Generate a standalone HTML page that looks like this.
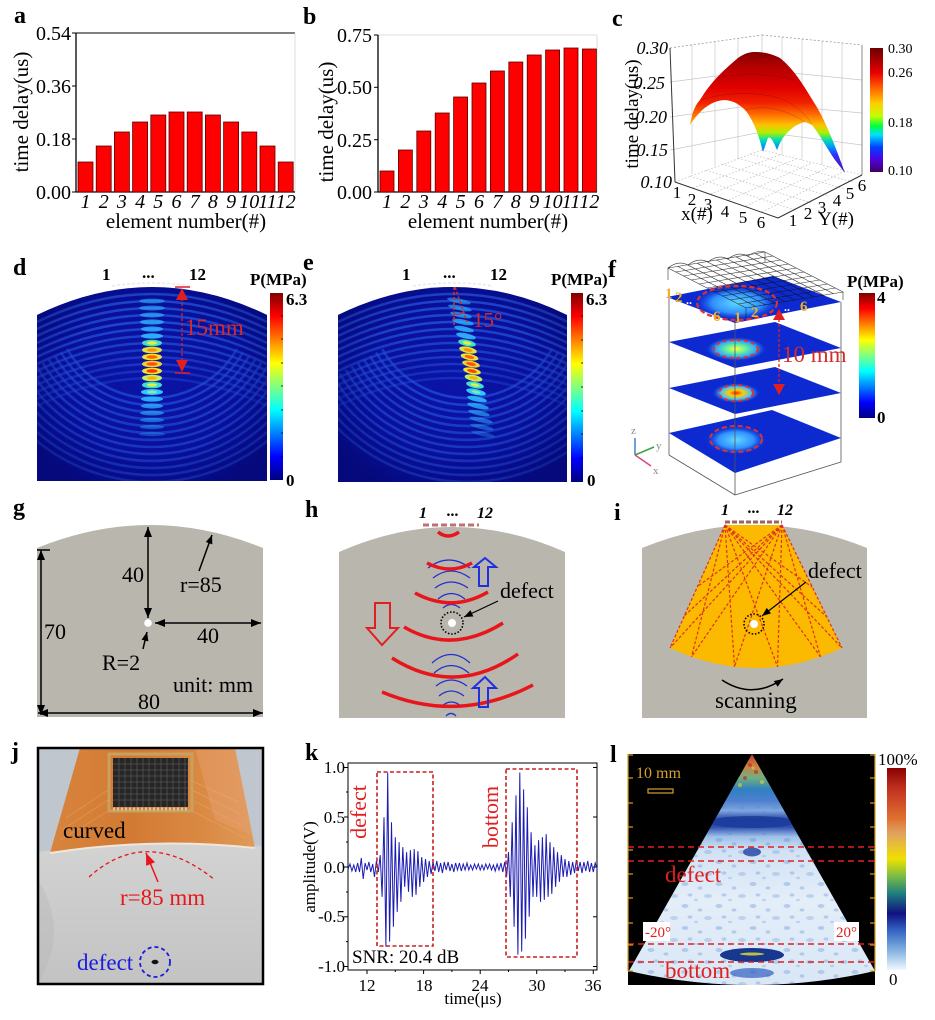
<!DOCTYPE html>
<html><head><meta charset="utf-8"><style>
html,body{margin:0;padding:0;background:#fff;}
svg{display:block;}
text{font-family:"Liberation Serif",serif;}
</style></head><body>
<svg width="935" height="1020" viewBox="0 0 935 1020" xmlns="http://www.w3.org/2000/svg">
<defs>
<linearGradient id="jet" x1="0" y1="0" x2="0" y2="1">
<stop offset="0" stop-color="#7f0000"/><stop offset="0.125" stop-color="#ff0000"/><stop offset="0.375" stop-color="#ffff00"/><stop offset="0.5" stop-color="#80ff80"/><stop offset="0.625" stop-color="#00ffff"/><stop offset="0.875" stop-color="#0000ff"/><stop offset="1" stop-color="#00007f"/>
</linearGradient>
<linearGradient id="cbar" x1="0" y1="0" x2="0" y2="1">
<stop offset="0" stop-color="#6b0000"/><stop offset="0.2" stop-color="#e80000"/><stop offset="0.32" stop-color="#ff6000"/><stop offset="0.45" stop-color="#ffd000"/><stop offset="0.55" stop-color="#c0ff00"/><stop offset="0.63" stop-color="#00ff40"/><stop offset="0.7" stop-color="#00e0ff"/><stop offset="0.8" stop-color="#0040ff"/><stop offset="0.9" stop-color="#5000e0"/><stop offset="1" stop-color="#400060"/>
</linearGradient>
<linearGradient id="surf" gradientUnits="userSpaceOnUse" x1="0" y1="50" x2="0" y2="175">
<stop offset="0" stop-color="#7a0000"/><stop offset="0.12" stop-color="#b00000"/><stop offset="0.3" stop-color="#e00000"/><stop offset="0.42" stop-color="#f02000"/><stop offset="0.52" stop-color="#ff7000"/><stop offset="0.6" stop-color="#ffc000"/><stop offset="0.66" stop-color="#b0f000"/><stop offset="0.72" stop-color="#00e0b0"/><stop offset="0.78" stop-color="#0090ff"/><stop offset="0.84" stop-color="#3030ff"/><stop offset="1" stop-color="#5010a0"/>
</linearGradient>
<linearGradient id="lbar" x1="0" y1="0" x2="0" y2="1">
<stop offset="0" stop-color="#8b0000"/><stop offset="0.1" stop-color="#c03020"/><stop offset="0.25" stop-color="#e07030"/><stop offset="0.32" stop-color="#e0a060"/><stop offset="0.45" stop-color="#f0e000"/><stop offset="0.53" stop-color="#80c040"/><stop offset="0.62" stop-color="#208080"/><stop offset="0.72" stop-color="#101080"/><stop offset="0.8" stop-color="#3060c0"/><stop offset="0.9" stop-color="#80b0e0"/><stop offset="1" stop-color="#f0f8ff"/>
</linearGradient>
<linearGradient id="fan" gradientUnits="userSpaceOnUse" x1="0" y1="754" x2="0" y2="990">
<stop offset="0" stop-color="#b04030"/><stop offset="0.05" stop-color="#d08040"/><stop offset="0.1" stop-color="#70b080"/><stop offset="0.15" stop-color="#3080c0"/><stop offset="0.2" stop-color="#5080d0"/><stop offset="0.24" stop-color="#7fa8e0"/><stop offset="0.275" stop-color="#2a4aa8"/><stop offset="0.31" stop-color="#3050b0"/><stop offset="0.35" stop-color="#9ec0e8"/><stop offset="0.41" stop-color="#d2e2f4"/><stop offset="0.62" stop-color="#e4eef9"/><stop offset="1" stop-color="#d8e6f5"/>
</linearGradient>
<pattern id="spk" width="34" height="22" patternUnits="userSpaceOnUse">
<ellipse cx="5" cy="4" rx="3.5" ry="2" fill="#4d7fd0" opacity="0.3"/><ellipse cx="20" cy="8" rx="2.5" ry="1.6" fill="#4d7fd0" opacity="0.3"/><ellipse cx="28" cy="16" rx="4" ry="2" fill="#4d7fd0" opacity="0.25"/><ellipse cx="10" cy="15" rx="2.5" ry="1.6" fill="#4d7fd0" opacity="0.3"/><ellipse cx="16" cy="20" rx="2" ry="1.2" fill="#4d7fd0" opacity="0.25"/>
</pattern>
<radialGradient id="vig" cx="0.5" cy="0.5" r="0.6">
<stop offset="0" stop-color="#00006a" stop-opacity="0"/><stop offset="0.6" stop-color="#00006a" stop-opacity="0.2"/><stop offset="1" stop-color="#00005a" stop-opacity="0.55"/>
</radialGradient>
<radialGradient id="sp1"><stop offset="0" stop-color="#60d8ff"/><stop offset="0.6" stop-color="#3090ff"/><stop offset="1" stop-color="#1040e0" stop-opacity="0"/></radialGradient>
<radialGradient id="sp2"><stop offset="0" stop-color="#ffff40"/><stop offset="0.35" stop-color="#60f0a0"/><stop offset="0.7" stop-color="#30a0ff"/><stop offset="1" stop-color="#1040e0" stop-opacity="0"/></radialGradient>
<radialGradient id="sp3"><stop offset="0" stop-color="#ff2000"/><stop offset="0.3" stop-color="#ffd000"/><stop offset="0.65" stop-color="#40c0ff"/><stop offset="1" stop-color="#1040e0" stop-opacity="0"/></radialGradient>
<linearGradient id="film" x1="0" y1="0" x2="1" y2="0">
<stop offset="0" stop-color="#d8843c"/><stop offset="0.4" stop-color="#d27a34"/><stop offset="0.75" stop-color="#da8a44"/><stop offset="1" stop-color="#e09a58"/>
</linearGradient>
<linearGradient id="floor" x1="0" y1="0" x2="0" y2="1">
<stop offset="0" stop-color="#d2d3d2"/><stop offset="1" stop-color="#c2c3c2"/>
</linearGradient>
<marker id="arr" viewBox="0 0 10 8" refX="10" refY="4" markerWidth="11" markerHeight="8" markerUnits="userSpaceOnUse" orient="auto-start-reverse"><path d="M0,0 L10,4 L0,8 Z" fill="#000"/></marker>
<marker id="arrs" viewBox="0 0 10 8" refX="10" refY="4" markerWidth="9" markerHeight="7" markerUnits="userSpaceOnUse" orient="auto"><path d="M0,0 L10,4 L0,8 Z" fill="#000"/></marker>
<marker id="arrr" viewBox="0 0 10 8" refX="10" refY="4" markerWidth="12" markerHeight="10" markerUnits="userSpaceOnUse" orient="auto"><path d="M0,0 L10,4 L0,8 Z" fill="#e8161b"/></marker>
<clipPath id="cd"><path d="M37,315 Q152,259 267,315 L267,481 L37,481 Z"/></clipPath>
<clipPath id="ce"><path d="M338,315 Q453,259 567,315 L567,482 L338,482 Z"/></clipPath>
<clipPath id="cfan"><path d="M752,754 L629,971 Q752,999 875,971 Z"/></clipPath>
<clipPath id="cj"><rect x="39" y="749" width="223" height="234"/></clipPath>
</defs>
<rect width="935" height="1020" fill="#fff"/>

<!-- panel letters -->
<g font-weight="bold" font-size="24">
<text x="14" y="23">a</text><text x="303" y="24">b</text><text x="612" y="26">c</text>
<text x="13" y="275">d</text><text x="303" y="270">e</text><text x="608" y="277">f</text>
<text x="13" y="515">g</text><text x="305" y="517">h</text><text x="614" y="520">i</text>
<text x="11" y="759">j</text><text x="305" y="760">k</text><text x="610" y="762">l</text>
</g>

<!-- ============ Panel a ============ -->
<g>
<line x1="76" y1="33" x2="295" y2="33" stroke="#000" stroke-width="1"/>
<line x1="295" y1="33" x2="295" y2="192" stroke="#ddd" stroke-width="1"/>
<line x1="76" y1="33" x2="76" y2="192.5" stroke="#000" stroke-width="1.3"/>
<line x1="76" y1="192" x2="295" y2="192" stroke="#000" stroke-width="1.3"/>
<g stroke="#000" stroke-width="1"><line x1="72" y1="33" x2="76" y2="33"/><line x1="72" y1="86" x2="76" y2="86"/><line x1="72" y1="139" x2="76" y2="139"/><line x1="72" y1="192" x2="76" y2="192"/></g>
<g fill="#ff0000" stroke="#5a0000" stroke-width="0.8">
<rect x="78" y="162" width="15" height="30"/><rect x="96.2" y="146" width="15" height="46"/><rect x="114.4" y="132" width="15" height="60"/><rect x="132.6" y="122" width="15" height="70"/><rect x="150.8" y="115" width="15" height="77"/><rect x="169" y="112" width="15" height="80"/><rect x="187.2" y="112" width="15" height="80"/><rect x="205.4" y="115" width="15" height="77"/><rect x="223.6" y="122" width="15" height="70"/><rect x="241.8" y="132" width="15" height="60"/><rect x="260" y="146" width="15" height="46"/><rect x="278.2" y="162" width="15" height="30"/>
</g>
<g font-size="20" text-anchor="end"><text x="71" y="40">0.54</text><text x="71" y="93">0.36</text><text x="71" y="146">0.18</text><text x="71" y="199">0.00</text></g>
<g font-size="20" font-style="italic" text-anchor="middle">
<text x="85.5" y="208">1</text><text x="103.7" y="208">2</text><text x="121.9" y="208">3</text><text x="140.1" y="208">4</text><text x="158.3" y="208">5</text><text x="176.5" y="208">6</text><text x="194.7" y="208">7</text><text x="212.9" y="208">8</text><text x="231.1" y="208">9</text><text x="249.3" y="208">10</text><text x="267.5" y="208">11</text><text x="285.7" y="208">12</text>
</g>
<text x="186" y="228" font-size="21" text-anchor="middle">element number(#)</text>
<text x="28" y="112" font-size="21" text-anchor="middle" transform="rotate(-90 28 112)">time delay(us)</text>
</g>

<!-- ============ Panel b ============ -->
<g>
<line x1="378" y1="35" x2="597" y2="35" stroke="#ddd"/>
<line x1="597" y1="35" x2="597" y2="192" stroke="#ddd"/>
<line x1="378" y1="35" x2="378" y2="192.5" stroke="#000" stroke-width="1.3"/>
<line x1="378" y1="192" x2="597" y2="192" stroke="#000" stroke-width="1.3"/>
<g stroke="#000" stroke-width="1"><line x1="374" y1="35" x2="378" y2="35"/><line x1="374" y1="87.3" x2="378" y2="87.3"/><line x1="374" y1="139.7" x2="378" y2="139.7"/><line x1="374" y1="192" x2="378" y2="192"/></g>
<g fill="#ff0000" stroke="#5a0000" stroke-width="0.8">
<rect x="380" y="171" width="14" height="21"/><rect x="398.4" y="150" width="14" height="42"/><rect x="416.8" y="131" width="14" height="61"/><rect x="435.2" y="113" width="14" height="79"/><rect x="453.6" y="97" width="14" height="95"/><rect x="472" y="83" width="14" height="109"/><rect x="490.4" y="71" width="14" height="121"/><rect x="508.8" y="62" width="14" height="130"/><rect x="527.2" y="55" width="14" height="137"/><rect x="545.6" y="50" width="14" height="142"/><rect x="564" y="48" width="14" height="144"/><rect x="582.4" y="49" width="14" height="143"/>
</g>
<g font-size="20" text-anchor="end"><text x="372" y="42">0.75</text><text x="372" y="94">0.50</text><text x="372" y="147">0.25</text><text x="372" y="199">0.00</text></g>
<g font-size="20" font-style="italic" text-anchor="middle">
<text x="387" y="208">1</text><text x="405.4" y="208">2</text><text x="423.8" y="208">3</text><text x="442.2" y="208">4</text><text x="460.6" y="208">5</text><text x="479" y="208">6</text><text x="497.4" y="208">7</text><text x="515.8" y="208">8</text><text x="534.2" y="208">9</text><text x="552.6" y="208">10</text><text x="571" y="208">11</text><text x="589.4" y="208">12</text>
</g>
<text x="488" y="228" font-size="21" text-anchor="middle">element number(#)</text>
<text x="333" y="122" font-size="21" text-anchor="middle" transform="rotate(-90 333 122)">time delay(us)</text>
</g>

<!-- ============ Panel c ============ -->
<g>
<g stroke="#c8c8c8" stroke-width="0.7" fill="none">
<line x1="692" y1="45" x2="692" y2="174"/><line x1="715" y1="42" x2="715" y2="166"/><line x1="738" y1="38" x2="738" y2="158"/>
<line x1="782" y1="37" x2="782" y2="155"/><line x1="802" y1="39" x2="802" y2="160"/><line x1="822" y1="41" x2="822" y2="165"/><line x1="842" y1="43" x2="842" y2="170"/>
<line x1="670" y1="82" x2="762" y2="70"/><line x1="670" y1="117" x2="762" y2="104"/><line x1="670" y1="150" x2="762" y2="132"/>
<line x1="762" y1="70" x2="862" y2="80"/><line x1="762" y1="104" x2="862" y2="113"/><line x1="762" y1="132" x2="862" y2="145"/>
</g>
<g stroke="#b8b8b8" stroke-width="0.7" stroke-dasharray="1.5,2" fill="none">
<line x1="693" y1="188" x2="779" y2="155"/><line x1="711" y1="194" x2="796" y2="159"/><line x1="729" y1="200" x2="812" y2="163"/><line x1="746" y1="206" x2="829" y2="167"/><line x1="762" y1="212" x2="845" y2="171"/>
<line x1="690" y1="176" x2="795" y2="210"/><line x1="706" y1="170" x2="812" y2="203"/><line x1="722" y1="164" x2="829" y2="196"/><line x1="738" y1="158" x2="845" y2="189"/><line x1="750" y1="154" x2="853" y2="182"/>
<line x1="675" y1="182" x2="762" y2="150"/><line x1="762" y1="150" x2="862" y2="175"/>
</g>
<g stroke="#999" stroke-width="0.8" fill="none">
<line x1="670" y1="48" x2="762" y2="35" stroke-dasharray="2,2"/><line x1="762" y1="35" x2="862" y2="45" stroke-dasharray="2,2"/>
<line x1="762" y1="35" x2="762" y2="150" stroke="#ccc"/>
</g>
<g stroke="#333" stroke-width="1" fill="none">
<line x1="670" y1="48" x2="675" y2="182"/>
<line x1="675" y1="182" x2="778" y2="218"/><line x1="778" y1="218" x2="862" y2="175"/>
<line x1="862" y1="45" x2="862" y2="175" stroke="#888"/>
</g>
<path d="M690,125 C692,112 696,104 700,100 C706,90 715,77 738,58 C745,53 750,52 755,52 C765,52 772,54 780,58 C795,70 805,88 815,104 C825,120 835,145 845,173 L835,160 C828,150 820,135 812,125 L805,122 C795,124 785,133 780,143 L777,150 C773,140 770,136 768,138 L763,152 C758,132 752,118 745,110 C735,100 725,98 715,102 C705,106 697,114 690,125 Z" fill="url(#surf)"/>
<g stroke="#400" stroke-width="0.5" fill="none" opacity="0.35">
<path d="M700,100 Q740,88 780,98 Q800,106 812,124"/><path d="M715,78 Q755,70 795,80"/><path d="M745,110 Q775,102 805,122"/>
</g>
<rect x="870" y="48" width="13" height="124" fill="url(#cbar)"/>
<g font-size="14"><text x="888" y="53">0.30</text><text x="888" y="77">0.26</text><text x="888" y="127">0.18</text><text x="888" y="175">0.10</text></g>
<g font-size="18" font-style="italic" text-anchor="end"><text x="668" y="54">0.30</text><text x="665" y="89">0.25</text><text x="667" y="123">0.20</text><text x="668" y="156">0.15</text><text x="672" y="188">0.10</text></g>
<g font-size="17" text-anchor="middle"><text x="677" y="198">1</text><text x="692" y="205">2</text><text x="708" y="210">3</text><text x="725" y="217">4</text><text x="743" y="223">5</text><text x="761" y="228">6</text>
<text x="793" y="226">1</text><text x="808" y="219">2</text><text x="822" y="213">3</text><text x="837" y="206">4</text><text x="850" y="199">5</text><text x="862" y="191">6</text></g>
<text x="697" y="220" font-size="19" text-anchor="middle">x(#)</text>
<text x="836" y="225" font-size="19" text-anchor="middle">Y(#)</text>
<text x="638" y="114" font-size="19" text-anchor="middle" transform="rotate(-90 638 114)">time delay(us)</text>
</g>

<!-- ============ Panel d ============ -->
<g clip-path="url(#cd)">
<rect x="37" y="255" width="230" height="230" fill="#0b14a6"/>
<g fill="none" stroke="#2f6dff" stroke-width="2.6">
<path d="M37,322 Q152,266 267,322" opacity="0.8"/><path d="M37,329 Q152,273 267,329" opacity="0.8"/><path d="M37,336 Q152,280 267,336" opacity="0.75"/><path d="M37,343 Q152,287 267,343" opacity="0.7"/><path d="M37,350 Q152,294 267,350" opacity="0.7"/><path d="M37,357 Q152,301 267,357" opacity="0.65"/><path d="M37,364 Q152,308 267,364" opacity="0.6"/><path d="M37,371 Q152,315 267,371" opacity="0.55"/><path d="M37,378 Q152,322 267,378" opacity="0.5"/><path d="M37,385 Q152,329 267,385" opacity="0.45"/><path d="M37,392 Q152,336 267,392" opacity="0.4"/><path d="M37,399 Q152,343 267,399" opacity="0.35"/><path d="M37,406 Q152,350 267,406" opacity="0.3"/>
</g>
<g fill="none" stroke="#2a62f5" stroke-width="2.6" opacity="0.6">
<path d="M67.1,349 A98,98 0 0 0 236.9,349"/><path d="M61.1,352.5 A105,105 0 0 0 242.9,352.5"/><path d="M55,356 A112,112 0 0 0 249,356"/><path d="M48.9,359.5 A119,119 0 0 0 255.1,359.5"/><path d="M42.9,363 A126,126 0 0 0 261.1,363"/><path d="M36.8,366.5 A133,133 0 0 0 267.2,366.5"/><path d="M30.8,370 A140,140 0 0 0 273.2,370"/><path d="M24.7,373.5 A147,147 0 0 0 279.3,373.5"/><path d="M18.6,377 A154,154 0 0 0 285.4,377"/><path d="M12.6,380.5 A161,161 0 0 0 291.4,380.5"/><path d="M6.5,384 A168,168 0 0 0 297.5,384"/><path d="M0.4,387.5 A175,175 0 0 0 303.6,387.5"/><path d="M-5.6,391 A182,182 0 0 0 309.6,391"/>
</g>
<rect x="37" y="280" width="230" height="202" fill="url(#vig)"/>
<g fill="#30b8ff">
<ellipse cx="152" cy="301" rx="13" ry="2.4" opacity="0.55"/><ellipse cx="152" cy="308" rx="13" ry="2.4" opacity="0.6"/><ellipse cx="152" cy="315" rx="12" ry="2.5" opacity="0.65"/><ellipse cx="152" cy="322" rx="12" ry="2.6" opacity="0.75"/><ellipse cx="152" cy="329" rx="11" ry="2.6" opacity="0.8"/><ellipse cx="152" cy="336" rx="11" ry="2.7" opacity="0.9"/>
<ellipse cx="152" cy="399" rx="11" ry="2.6" opacity="0.9"/><ellipse cx="152" cy="406" rx="11" ry="2.5" opacity="0.75"/><ellipse cx="152" cy="413" rx="12" ry="2.4" opacity="0.6"/><ellipse cx="152" cy="420" rx="12" ry="2.3" opacity="0.5"/><ellipse cx="152" cy="427" rx="12" ry="2.2" opacity="0.4"/><ellipse cx="152" cy="434" rx="13" ry="2.2" opacity="0.3"/>
</g>
<g>
<ellipse cx="152" cy="343" rx="10" ry="3.3" fill="#40e0c0"/><ellipse cx="152" cy="343" rx="5" ry="1.8" fill="#e0f040"/>
<ellipse cx="152" cy="350" rx="10" ry="3.3" fill="#e0e040"/><ellipse cx="152" cy="350" rx="5" ry="1.8" fill="#ff9000"/>
<ellipse cx="152" cy="357" rx="10" ry="3.3" fill="#f0e030"/><ellipse cx="152" cy="357" rx="5.5" ry="1.8" fill="#ff6000"/>
<ellipse cx="152" cy="364" rx="10" ry="3.3" fill="#f0d030"/><ellipse cx="152" cy="364" rx="5.5" ry="1.8" fill="#ff5000"/>
<ellipse cx="152" cy="371" rx="10" ry="3.3" fill="#f0e030"/><ellipse cx="152" cy="371" rx="5.5" ry="1.8" fill="#ff3000"/>
<ellipse cx="152" cy="378" rx="10" ry="3.3" fill="#c0f060"/><ellipse cx="152" cy="378" rx="5" ry="1.8" fill="#ffb000"/>
<ellipse cx="152" cy="385" rx="10" ry="3.3" fill="#40e0d0"/><ellipse cx="152" cy="385" rx="5" ry="1.6" fill="#e0f040"/>
<ellipse cx="152" cy="392" rx="11" ry="3" fill="#30c8ff"/><ellipse cx="152" cy="392" rx="5" ry="1.5" fill="#80f0a0"/>
</g>
</g>
<path d="M112,286 Q152,280 192,286" stroke="#e8e8f0" stroke-width="1.5" stroke-dasharray="3,2" fill="none"/>
<g font-weight="bold" font-size="17"><text x="102" y="280">1</text><text x="142" y="278">...</text><text x="189" y="280">12</text></g>
<g stroke="#e02020" fill="#e02020">
<line x1="182" y1="298" x2="182" y2="362" stroke-width="1.3" stroke-dasharray="3,2"/>
<line x1="175" y1="287" x2="190" y2="287" stroke-width="1.5"/><line x1="175" y1="373" x2="190" y2="373" stroke-width="1.5"/>
<path d="M182,288 L176,300 L188,300 Z" stroke="none"/><path d="M182,372 L176,360 L188,360 Z" stroke="none"/>
</g>
<text x="185" y="335" font-size="23" fill="#d42a2a">15mm</text>
<rect x="270" y="293" width="13" height="187" fill="url(#jet)"/>
<g stroke="#000" stroke-width="0.8"><line x1="281" y1="316" x2="283" y2="316"/><line x1="281" y1="339" x2="283" y2="339"/><line x1="281" y1="363" x2="283" y2="363"/><line x1="281" y1="386" x2="283" y2="386"/><line x1="281" y1="410" x2="283" y2="410"/><line x1="281" y1="433" x2="283" y2="433"/><line x1="281" y1="457" x2="283" y2="457"/></g>
<g font-weight="bold" font-size="17"><text x="250" y="285">P(MPa)</text><text x="286" y="305">6.3</text><text x="286" y="486">0</text></g>

<!-- ============ Panel e ============ -->
<g clip-path="url(#ce)">
<g transform="translate(301,0)">
<rect x="37" y="255" width="230" height="230" fill="#0b14a6"/>
<g fill="none" stroke="#2f6dff" stroke-width="2.6">
<path d="M37,322 Q152,266 267,322" opacity="0.8"/><path d="M37,329 Q152,273 267,329" opacity="0.8"/><path d="M37,336 Q152,280 267,336" opacity="0.75"/><path d="M37,343 Q152,287 267,343" opacity="0.7"/><path d="M37,350 Q152,294 267,350" opacity="0.7"/><path d="M37,357 Q152,301 267,357" opacity="0.65"/><path d="M37,364 Q152,308 267,364" opacity="0.6"/><path d="M37,371 Q152,315 267,371" opacity="0.55"/><path d="M37,378 Q152,322 267,378" opacity="0.5"/><path d="M37,385 Q152,329 267,385" opacity="0.45"/><path d="M37,392 Q152,336 267,392" opacity="0.4"/><path d="M37,399 Q152,343 267,399" opacity="0.35"/><path d="M37,406 Q152,350 267,406" opacity="0.3"/>
</g>
<g fill="none" stroke="#2a62f5" stroke-width="2.6" opacity="0.6" transform="translate(14,0)">
<path d="M67.1,349 A98,98 0 0 0 236.9,349"/><path d="M61.1,352.5 A105,105 0 0 0 242.9,352.5"/><path d="M55,356 A112,112 0 0 0 249,356"/><path d="M48.9,359.5 A119,119 0 0 0 255.1,359.5"/><path d="M42.9,363 A126,126 0 0 0 261.1,363"/><path d="M36.8,366.5 A133,133 0 0 0 267.2,366.5"/><path d="M30.8,370 A140,140 0 0 0 273.2,370"/><path d="M24.7,373.5 A147,147 0 0 0 279.3,373.5"/><path d="M18.6,377 A154,154 0 0 0 285.4,377"/><path d="M12.6,380.5 A161,161 0 0 0 291.4,380.5"/><path d="M6.5,384 A168,168 0 0 0 297.5,384"/><path d="M0.4,387.5 A175,175 0 0 0 303.6,387.5"/><path d="M-5.6,391 A182,182 0 0 0 309.6,391"/>
</g>
<rect x="37" y="280" width="230" height="202" fill="url(#vig)"/>
</g>
<g fill="#30b8ff">
<ellipse cx="459" cy="301" rx="12" ry="2.4" opacity="0.55" transform="rotate(12 459 301)"/><ellipse cx="460" cy="308" rx="12" ry="2.4" opacity="0.6" transform="rotate(12 460 308)"/><ellipse cx="461" cy="315" rx="11" ry="2.5" opacity="0.65" transform="rotate(12 461 315)"/><ellipse cx="463" cy="322" rx="11" ry="2.6" opacity="0.75" transform="rotate(12 463 322)"/><ellipse cx="464" cy="329" rx="10" ry="2.6" opacity="0.8" transform="rotate(12 464 329)"/><ellipse cx="466" cy="336" rx="10" ry="2.7" opacity="0.9" transform="rotate(12 466 336)"/>
<ellipse cx="477" cy="399" rx="10" ry="2.6" opacity="0.9" transform="rotate(12 477 399)"/><ellipse cx="478" cy="406" rx="11" ry="2.5" opacity="0.75" transform="rotate(12 478 406)"/><ellipse cx="479" cy="413" rx="11" ry="2.4" opacity="0.6" transform="rotate(12 479 413)"/><ellipse cx="481" cy="420" rx="12" ry="2.3" opacity="0.5" transform="rotate(12 481 420)"/><ellipse cx="482" cy="427" rx="12" ry="2.2" opacity="0.4" transform="rotate(12 482 427)"/><ellipse cx="483" cy="434" rx="12" ry="2.2" opacity="0.3" transform="rotate(12 483 434)"/>
</g>
<g>
<g transform="rotate(12 467 343)"><ellipse cx="467" cy="343" rx="9" ry="3.2" fill="#40e0c0"/><ellipse cx="467" cy="343" rx="4.5" ry="1.6" fill="#e0f040"/></g>
<g transform="rotate(12 468 350)"><ellipse cx="468" cy="350" rx="9" ry="3.2" fill="#e0e040"/><ellipse cx="468" cy="350" rx="4.5" ry="1.6" fill="#ff9000"/></g>
<g transform="rotate(12 469.5 357)"><ellipse cx="469.5" cy="357" rx="9" ry="3.2" fill="#f0e030"/><ellipse cx="469.5" cy="357" rx="5" ry="1.6" fill="#ff6000"/></g>
<g transform="rotate(12 471 364)"><ellipse cx="471" cy="364" rx="9" ry="3.2" fill="#f0d030"/><ellipse cx="471" cy="364" rx="5" ry="1.6" fill="#ff5000"/></g>
<g transform="rotate(12 472 371)"><ellipse cx="472" cy="371" rx="9" ry="3.2" fill="#f0e030"/><ellipse cx="472" cy="371" rx="5" ry="1.6" fill="#ff4000"/></g>
<g transform="rotate(12 473.5 378)"><ellipse cx="473.5" cy="378" rx="9" ry="3.2" fill="#c0f060"/><ellipse cx="473.5" cy="378" rx="4.5" ry="1.6" fill="#ffb000"/></g>
<g transform="rotate(12 475 385)"><ellipse cx="475" cy="385" rx="9" ry="3.2" fill="#40e0d0"/><ellipse cx="475" cy="385" rx="4.5" ry="1.5" fill="#e0f040"/></g>
<g transform="rotate(12 476 392)"><ellipse cx="476" cy="392" rx="10" ry="3" fill="#30c8ff"/><ellipse cx="476" cy="392" rx="4.5" ry="1.4" fill="#80f0a0"/></g>
</g>
</g>
<path d="M413,286 Q453,280 493,286" stroke="#e8e8f0" stroke-width="1.5" stroke-dasharray="3,2" fill="none"/>
<g font-weight="bold" font-size="17"><text x="402" y="280">1</text><text x="443" y="278">...</text><text x="490" y="280">12</text></g>
<g stroke="#d42a2a" stroke-width="1.6" stroke-dasharray="3,2" fill="none">
<line x1="454" y1="287" x2="454" y2="325"/><line x1="455" y1="287" x2="467" y2="322"/>
</g>
<path d="M454,314 Q459,316 463,312" stroke="#d42a2a" stroke-width="1" fill="none"/>
<text x="473" y="327" font-size="21" fill="#d42a2a">15°</text>
<rect x="571" y="293" width="12" height="189" fill="url(#jet)"/>
<g stroke="#000" stroke-width="0.8"><line x1="581" y1="316" x2="583" y2="316"/><line x1="581" y1="340" x2="583" y2="340"/><line x1="581" y1="363" x2="583" y2="363"/><line x1="581" y1="387" x2="583" y2="387"/><line x1="581" y1="411" x2="583" y2="411"/><line x1="581" y1="434" x2="583" y2="434"/><line x1="581" y1="458" x2="583" y2="458"/></g>
<g font-weight="bold" font-size="17"><text x="551" y="285">P(MPa)</text><text x="586" y="305">6.3</text><text x="587" y="486">0</text></g>

<!-- ============ Panel f ============ -->
<g>
<polygon points="669,433 772,410 841,438 735,473" fill="#0d2ad0"/>
<ellipse cx="736" cy="440" rx="30" ry="14" fill="url(#sp1)"/>
<ellipse cx="736" cy="439" rx="26" ry="13" fill="none" stroke="#e03030" stroke-width="2" stroke-dasharray="5,3"/>
<polygon points="669,388 775,367 841,393 735,414" fill="#0d2ad0"/>
<ellipse cx="736" cy="393" rx="24" ry="10" fill="url(#sp3)"/>
<ellipse cx="736" cy="393" rx="17" ry="8" fill="none" stroke="#e03030" stroke-width="2" stroke-dasharray="4,3"/>
<polygon points="669,342 775,322 841,348 735,368" fill="#0d2ad0"/>
<ellipse cx="736" cy="349" rx="30" ry="12" fill="url(#sp2)"/>
<ellipse cx="736" cy="349" rx="22" ry="9" fill="none" stroke="#e03030" stroke-width="2" stroke-dasharray="4,3"/>
<polygon points="667,297 773,276 841,302 735,323" fill="#0d2ad0"/>
<ellipse cx="737" cy="303" rx="42" ry="17" fill="url(#sp1)"/>
<g stroke="#111" stroke-width="0.6" fill="none" opacity="0.85">
<polygon points="668,268 765,252 843,292 746,308"/>
<line x1="677.7" y1="266.4" x2="755.7" y2="306.4"/><line x1="687.4" y1="264.8" x2="765.4" y2="304.8"/><line x1="697.1" y1="263.2" x2="775.1" y2="303.2"/><line x1="706.8" y1="261.6" x2="784.8" y2="301.6"/><line x1="716.5" y1="260" x2="794.5" y2="300"/><line x1="726.2" y1="258.4" x2="804.2" y2="298.4"/><line x1="735.9" y1="256.8" x2="813.9" y2="296.8"/><line x1="745.6" y1="255.2" x2="823.6" y2="295.2"/><line x1="755.3" y1="253.6" x2="833.3" y2="293.6"/>
<line x1="675.8" y1="272" x2="772.8" y2="256"/><line x1="683.6" y1="276" x2="780.6" y2="260"/><line x1="691.4" y1="280" x2="788.4" y2="264"/><line x1="699.2" y1="284" x2="796.2" y2="268"/><line x1="707" y1="288" x2="804" y2="272"/><line x1="714.8" y1="292" x2="811.8" y2="276"/><line x1="722.6" y1="296" x2="819.6" y2="280"/><line x1="730.4" y1="300" x2="827.4" y2="284"/><line x1="738.2" y1="304" x2="835.2" y2="288"/>
<line x1="668" y1="268" x2="668" y2="280"/><line x1="765" y1="252" x2="765" y2="262"/><line x1="843" y1="292" x2="843" y2="300"/><line x1="746" y1="308" x2="746" y2="318"/>
<path d="M668,268 q10,-8 20,-3 q10,-8 20,-3 q10,-8 20,-3 q10,-8 20,-3 q8,-6 17,-4" />
</g>
<ellipse cx="737" cy="303" rx="40" ry="17" fill="none" stroke="#e03030" stroke-width="2.2" stroke-dasharray="5,3"/>
<g stroke="#555" stroke-width="0.8" fill="none">
<line x1="669" y1="297" x2="669" y2="455"/><line x1="735" y1="323" x2="735" y2="495"/><line x1="841" y1="302" x2="841" y2="462"/>
<line x1="669" y1="455" x2="735" y2="495"/><line x1="735" y1="495" x2="841" y2="462"/>
</g>
<g fill="#f0b020" font-weight="bold" font-size="15"><text x="665" y="298">1</text><text x="675" y="302">2</text><text x="713" y="321">6</text><text x="734" y="322">1</text><text x="751" y="317">2</text><text x="800" y="311">6</text></g>
<g fill="#fff" font-size="12" font-weight="bold"><text x="686" y="304">..</text><text x="784" y="311">..</text></g>
<line x1="779" y1="314" x2="779" y2="386" stroke="#e02020" stroke-width="1.3" stroke-dasharray="3,2"/>
<path d="M779,309 L773,320 L785,320 Z" fill="#e02020"/><path d="M779,395 L773,384 L785,384 Z" fill="#e02020"/>
<text x="782" y="362" font-size="23" fill="#d42a2a">10 mm</text>
<rect x="859" y="293" width="16" height="125" fill="url(#jet)"/>
<g font-weight="bold" font-size="17"><text x="847" y="287">P(MPa)</text><text x="877" y="303">4</text><text x="877" y="423">0</text></g>
<g stroke-width="1.5" fill="none">
<line x1="635" y1="455" x2="635" y2="438" stroke="#4080c0"/><line x1="635" y1="455" x2="654" y2="447" stroke="#40a040"/><line x1="635" y1="455" x2="651" y2="466" stroke="#e04080"/>
</g>
<g fill="#888" font-size="11" font-family="Liberation Sans"><text x="631" y="434">z</text><text x="656" y="449">y</text><text x="653" y="474">x</text></g>
</g>

<!-- ============ Panel g ============ -->
<g>
<path d="M37,548 Q150,502 263,548 L263,717 L37,717 Z" fill="#b9b6ae"/>
<g stroke="#000" stroke-width="1.5" fill="none">
<line x1="148" y1="527" x2="148" y2="618" marker-start="url(#arr)" marker-end="url(#arr)"/>
<line x1="155" y1="623" x2="261" y2="623" marker-start="url(#arr)" marker-end="url(#arr)"/>
<line x1="199" y1="571" x2="212" y2="535" marker-end="url(#arrs)"/>
<line x1="143" y1="649" x2="147" y2="632" marker-end="url(#arrs)"/>
<line x1="41" y1="550" x2="41" y2="715" marker-start="url(#arr)" marker-end="url(#arr)"/>
<line x1="37" y1="550" x2="50" y2="550"/>
<line x1="38" y1="713" x2="263" y2="713" marker-start="url(#arr)" marker-end="url(#arr)"/>
</g>
<circle cx="148" cy="623" r="3.8" fill="#fff"/>
<g font-size="22"><text x="122" y="582">40</text><text x="197" y="643">40</text><text x="180" y="592">r=85</text><text x="102" y="670">R=2</text><text x="44" y="639">70</text><text x="173" y="692">unit: mm</text><text x="138" y="709">80</text></g>
</g>

<!-- ============ Panel h ============ -->
<g>
<path d="M339,552 Q452,502 565,552 L565,718 L339,718 Z" fill="#b9b6ae"/>
<line x1="423" y1="525" x2="479" y2="525" stroke="#c07070" stroke-width="3" stroke-dasharray="6,3"/>
<g font-weight="bold" font-style="italic" font-size="16"><text x="419" y="518">1</text><text x="447" y="516">...</text><text x="477" y="518">12</text></g>
<g fill="none" stroke="#2030d0" stroke-width="1.3">
<path d="M428,568 Q449,552 470,568"/><path d="M433,578 Q451,564 470,578"/><path d="M435,588 Q451,576 468,588"/><path d="M438,599 Q451,588 465,599"/><path d="M443,608 Q451,601 460,608"/>
<path d="M432,663 Q451,646 470,663"/><path d="M434,673 Q451,658 469,673"/><path d="M436,686 Q451,674 467,686"/><path d="M439,696 Q451,686 464,696"/><path d="M442,706 Q451,698 461,706"/><path d="M446,716 Q451,711 456,716"/>
</g>
<g fill="none" stroke="#e8161b" stroke-width="3.5">
<path d="M438,532 Q448,540 459,532"/>
<path d="M427,563 Q450,575 472,563"/>
<path d="M415,593 Q452,613 488,592"/>
<path d="M404,627 Q452,655 503,623"/>
<path d="M392,658 Q455,698 518,654"/>
<path d="M382,692 Q458,724 533,685"/>
</g>
<path d="M375,603 L390,603 L390,628 L398,628 L382,645 L367,628 L375,628 Z" fill="none" stroke="#e02020" stroke-width="2"/>
<path d="M479,586 L488,586 L488,567 L496,567 L485,558 L474,567 L479,567 Z" fill="none" stroke="#2030e0" stroke-width="2"/>
<path d="M479,707 L488,707 L488,688 L496,688 L485,677 L473,688 L479,688 Z" fill="none" stroke="#2030e0" stroke-width="2"/>
<circle cx="452" cy="623" r="11" fill="none" stroke="#000" stroke-width="1.6" stroke-dasharray="1.5,1.8"/>
<circle cx="452" cy="623" r="4" fill="#fff"/>
<line x1="498" y1="601" x2="464" y2="617" stroke="#000" stroke-width="1.2" marker-end="url(#arrs)"/>
<text x="500" y="598" font-size="22">defect</text>
</g>

<!-- ============ Panel i ============ -->
<g>
<path d="M642,548 Q754.5,502 867,548 L867,718 L642,718 Z" fill="#b9b6ae"/>
<path d="M725,525 L782,525 L842,648 Q756,688 670,648 Z" fill="#fbb900"/>
<g stroke="#e03020" stroke-width="1.2" stroke-dasharray="3,2" fill="none">
<line x1="725" y1="525" x2="670" y2="648"/><line x1="725" y1="525" x2="691.5" y2="656.8"/><line x1="725" y1="525" x2="734.5" y2="666.7"/><line x1="725" y1="525" x2="777.5" y2="666.7"/><line x1="725" y1="525" x2="820.5" y2="656.8"/><line x1="725" y1="525" x2="842" y2="648"/><line x1="725" y1="525" x2="812" y2="587"/><line x1="725" y1="525" x2="827" y2="617"/>
<line x1="782" y1="525" x2="842" y2="648"/><line x1="782" y1="525" x2="820.5" y2="656.8"/><line x1="782" y1="525" x2="777.5" y2="666.7"/><line x1="782" y1="525" x2="734.5" y2="666.7"/><line x1="782" y1="525" x2="691.5" y2="656.8"/><line x1="782" y1="525" x2="670" y2="648"/><line x1="782" y1="525" x2="697.5" y2="586.5"/><line x1="782" y1="525" x2="683" y2="617"/>
</g>
<line x1="725" y1="522" x2="782" y2="522" stroke="#a06060" stroke-width="3" stroke-dasharray="5,2"/>
<g font-weight="bold" font-style="italic" font-size="16"><text x="721" y="515">1</text><text x="748" y="513">...</text><text x="777" y="515">12</text></g>
<circle cx="754" cy="624" r="10" fill="none" stroke="#000" stroke-width="1.6" stroke-dasharray="1.5,1.8"/>
<circle cx="754" cy="624" r="4" fill="#fff"/>
<line x1="806" y1="582" x2="762" y2="616" stroke="#000" stroke-width="1.2" marker-end="url(#arrs)"/>
<text x="808" y="578" font-size="22">defect</text>
<path d="M722,680 Q752,700 783,679" stroke="#000" stroke-width="1.5" fill="none" marker-end="url(#arrs)"/>
<text x="715" y="708" font-size="23">scanning</text>
</g>

<!-- ============ Panel j ============ -->
<g clip-path="url(#cj)">
<rect x="38" y="748" width="226" height="237" fill="#bfc6cd"/>
<path d="M38,852 Q152,836 263,846 L263,984 L38,984 Z" fill="url(#floor)"/>
<path d="M38,880 Q70,930 38,984 Z" fill="#b4b4b4" opacity="0.35"/>
<path d="M80,748 L235,748 L255,848 Q152,836 50,853 Z" fill="url(#film)"/>
<path d="M195,748 L235,748 L252,835 L215,820 Z" fill="#e6a070" opacity="0.45"/>
<path d="M50,853 Q152,837 255,848" stroke="#f0e6dc" stroke-width="2" fill="none"/>
<g stroke="#f0b070" stroke-width="0.7" opacity="0.55">
<line x1="110" y1="810" x2="60" y2="840"/><line x1="108" y1="800" x2="62" y2="830"/><line x1="108" y1="790" x2="66" y2="818"/><line x1="190" y1="810" x2="245" y2="838"/><line x1="192" y1="800" x2="243" y2="826"/><line x1="192" y1="790" x2="240" y2="814"/><line x1="190" y1="780" x2="238" y2="802"/>
</g>
<rect x="109" y="754" width="83" height="57" fill="none" stroke="#c8a060" stroke-width="3"/>
<rect x="113" y="758" width="75" height="49" fill="#262626"/>
<g stroke="#555" stroke-width="0.8">
<line x1="113" y1="764" x2="188" y2="764"/><line x1="113" y1="770" x2="188" y2="770"/><line x1="113" y1="776" x2="188" y2="776"/><line x1="113" y1="782" x2="188" y2="782"/><line x1="113" y1="788" x2="188" y2="788"/><line x1="113" y1="794" x2="188" y2="794"/><line x1="113" y1="800" x2="188" y2="800"/>
<line x1="119" y1="758" x2="119" y2="807"/><line x1="125" y1="758" x2="125" y2="807"/><line x1="131" y1="758" x2="131" y2="807"/><line x1="137" y1="758" x2="137" y2="807"/><line x1="143" y1="758" x2="143" y2="807"/><line x1="149" y1="758" x2="149" y2="807"/><line x1="155" y1="758" x2="155" y2="807"/><line x1="161" y1="758" x2="161" y2="807"/><line x1="167" y1="758" x2="167" y2="807"/><line x1="173" y1="758" x2="173" y2="807"/><line x1="179" y1="758" x2="179" y2="807"/><line x1="185" y1="758" x2="185" y2="807"/>
</g>
<line x1="113" y1="809" x2="188" y2="809" stroke="#d8c8a0" stroke-width="3" stroke-dasharray="2,2"/>
</g>
<rect x="38" y="748" width="225" height="236" fill="none" stroke="#000" stroke-width="2.5"/>
<text x="63" y="838" font-size="23">curved</text>
<path d="M89,877 Q147,825 215,880" stroke="#e8161b" stroke-width="1.3" stroke-dasharray="4,3" fill="none"/>
<line x1="158" y1="882" x2="146" y2="853" stroke="#e8161b" stroke-width="1.5" marker-end="url(#arrr)"/>
<text x="120" y="905" font-size="23" fill="#e8161b">r=85 mm</text>
<text x="77" y="970" font-size="23" fill="#1a1ae0">defect</text>
<circle cx="155" cy="962" r="15" fill="none" stroke="#1a1ae0" stroke-width="1.8" stroke-dasharray="4,3"/>
<ellipse cx="155" cy="962" rx="3.5" ry="2.2" fill="#111"/>

<!-- ============ Panel k ============ -->
<g>
<rect x="348" y="763" width="249" height="207" fill="none" stroke="#000" stroke-width="1"/>
<g stroke="#000" stroke-width="1">
<line x1="344" y1="767.5" x2="348" y2="767.5"/><line x1="344" y1="817" x2="348" y2="817"/><line x1="344" y1="867" x2="348" y2="867"/><line x1="344" y1="916.8" x2="348" y2="916.8"/><line x1="344" y1="966.5" x2="348" y2="966.5"/>
<line x1="346" y1="792" x2="348" y2="792"/><line x1="346" y1="842" x2="348" y2="842"/><line x1="346" y1="892" x2="348" y2="892"/><line x1="346" y1="941.6" x2="348" y2="941.6"/>
<line x1="597" y1="767.5" x2="593" y2="767.5"/><line x1="597" y1="817" x2="593" y2="817"/><line x1="597" y1="867" x2="593" y2="867"/><line x1="597" y1="916.8" x2="593" y2="916.8"/><line x1="597" y1="966.5" x2="593" y2="966.5"/>
<line x1="367" y1="970" x2="367" y2="974"/><line x1="423.6" y1="970" x2="423.6" y2="974"/><line x1="480.2" y1="970" x2="480.2" y2="974"/><line x1="536.7" y1="970" x2="536.7" y2="974"/><line x1="593.3" y1="970" x2="593.3" y2="974"/>
<line x1="395.3" y1="970" x2="395.3" y2="972"/><line x1="451.9" y1="970" x2="451.9" y2="972"/><line x1="508.5" y1="970" x2="508.5" y2="972"/><line x1="565" y1="970" x2="565" y2="972"/>
</g>
<polyline fill="none" stroke="#1c1cb4" stroke-width="1" points="348.1,869 350,864 351.9,871 353.8,865 355.7,872 357.6,863 359.5,872 361.3,858 363.2,878.9 365.1,863 367,870 368.9,862 370.8,872 372.7,864 374.5,877 376.4,861 378.3,872 380.2,855.1 382.1,896.9 384,817.3 385.9,946.6 387.7,772.5 389.6,941.6 391.5,822.2 393.4,926.7 395.3,837.2 397.2,911.8 399.1,842.1 400.9,901.8 402.8,847.1 404.7,886.9 406.6,852.1 408.5,891.9 410.4,850.1 412.3,896.9 414.2,849.1 416,894.9 417.9,851.1 419.8,886.9 421.7,857.1 423.6,881.9 425.5,859 427.4,877 429.2,861 431.1,874 433,862 434.9,871 436.8,861 438.7,872 440.6,863 442.4,873 444.3,862 446.2,870 448.1,862 450,871 451.9,864 453.8,872 455.6,863 457.5,870 459.4,863 461.3,871 463.2,864 465.1,870 467,863 468.8,870 470.7,865 472.6,870 474.5,864 476.4,869 478.3,864 480.2,870 482,865 483.9,870 485.8,864 487.7,869 489.6,864 491.5,870 493.4,865 495.2,871 497.1,864 499,870 500.9,863 502.8,872 504.7,862 506.6,877 508.5,852.1 510.3,896.9 512.2,822.2 514.1,926.7 516,795.4 517.9,954.6 519.8,772.5 521.7,951.6 523.6,789.4 525.4,938.6 527.3,807.3 529.2,916.8 531.1,832.2 533,896.9 534.9,845.1 536.7,896.9 538.6,840.1 540.5,901.8 542.4,837.2 544.3,899.8 546.2,834.2 548.1,896.9 550,842.1 551.8,893.9 553.7,847.1 555.6,886.9 557.5,852.1 559.4,881.9 561.3,855.1 563.2,877 565,859 566.9,877 568.8,861 570.7,875 572.6,862 574.5,873 576.4,860 578.2,871 580.1,862 582,873 583.9,862 585.8,871 587.7,861 589.6,872 591.4,863 593.3,872 595.2,863 597.1,869"/>
<rect x="377" y="772" width="56" height="174" fill="none" stroke="#c82020" stroke-width="1.6" stroke-dasharray="4,2.5"/>
<rect x="506" y="769" width="71" height="188" fill="none" stroke="#c82020" stroke-width="1.6" stroke-dasharray="4,2.5"/>
<text x="366" y="812" font-size="22" fill="#e02020" text-anchor="middle" transform="rotate(-90 366 812)">defect</text>
<text x="498" y="817" font-size="22" fill="#e02020" text-anchor="middle" transform="rotate(-90 498 817)">bottom</text>
<text x="352" y="963" font-size="19">SNR: 20.4 dB</text>
<g font-size="17" text-anchor="end"><text x="345" y="773">1.0</text><text x="345" y="823">0.5</text><text x="345" y="873">0.0</text><text x="345" y="922">-0.5</text><text x="345" y="972">-1.0</text></g>
<g font-size="17" text-anchor="middle"><text x="367" y="991">12</text><text x="424" y="991">18</text><text x="480" y="991">24</text><text x="537" y="991">30</text><text x="593" y="991">36</text></g>
<text x="473" y="1004" font-size="17" text-anchor="middle">time(μs)</text>
<text x="315" y="867" font-size="17" text-anchor="middle" transform="rotate(-90 315 867)">amplitude(V)</text>
</g>

<!-- ============ Panel l ============ -->
<g>
<rect x="628" y="754" width="247" height="231" fill="#000"/>
<g clip-path="url(#cfan)">
<rect x="620" y="750" width="260" height="250" fill="url(#fan)"/>
<rect x="620" y="830" width="260" height="170" fill="url(#spk)"/>
<rect x="620" y="790" width="260" height="30" fill="url(#spk)" opacity="0.7"/>
<g fill="#c02020" opacity="0.6"><circle cx="750" cy="765" r="2"/><circle cx="756" cy="772" r="2"/><circle cx="745" cy="778" r="2"/></g>
<g fill="#f0d020" opacity="0.6"><circle cx="753" cy="768" r="1.5"/><circle cx="740" cy="785" r="2"/><circle cx="762" cy="782" r="2"/></g>
<ellipse cx="752" cy="822" rx="45" ry="6" fill="#1a3a9a" opacity="0.8"/>
<ellipse cx="752" cy="852" rx="9" ry="4.5" fill="#2040a0" opacity="0.8"/>
<ellipse cx="752" cy="955" rx="32" ry="7" fill="#183890"/>
<ellipse cx="752" cy="954" rx="12" ry="1.5" fill="#c0c040"/>
<ellipse cx="752" cy="973" rx="22" ry="5" fill="#3060c0" opacity="0.7"/>
</g>
<g stroke="#e02020" stroke-width="1.5" stroke-dasharray="6,4"><line x1="628" y1="847" x2="875" y2="847"/><line x1="628" y1="861" x2="875" y2="861"/><line x1="628" y1="944" x2="875" y2="944"/><line x1="628" y1="962" x2="875" y2="962"/></g>
<g stroke="#d4a020" stroke-width="1.2">
<line x1="628" y1="754" x2="628" y2="971"/><line x1="875" y1="754" x2="875" y2="971"/>
<line x1="628" y1="755" x2="633" y2="755"/><line x1="628" y1="778" x2="633" y2="778"/><line x1="628" y1="803" x2="633" y2="803"/><line x1="628" y1="827" x2="633" y2="827"/><line x1="628" y1="850" x2="633" y2="850"/><line x1="628" y1="874" x2="633" y2="874"/><line x1="628" y1="898" x2="633" y2="898"/><line x1="628" y1="923" x2="633" y2="923"/><line x1="628" y1="945" x2="633" y2="945"/><line x1="628" y1="971" x2="633" y2="971"/>
<line x1="870" y1="755" x2="875" y2="755"/><line x1="870" y1="778" x2="875" y2="778"/><line x1="870" y1="803" x2="875" y2="803"/><line x1="870" y1="827" x2="875" y2="827"/><line x1="870" y1="850" x2="875" y2="850"/><line x1="870" y1="874" x2="875" y2="874"/><line x1="870" y1="898" x2="875" y2="898"/><line x1="870" y1="923" x2="875" y2="923"/><line x1="870" y1="945" x2="875" y2="945"/><line x1="870" y1="971" x2="875" y2="971"/>
</g>
<text x="636" y="778" font-size="16" fill="#d4a030">10 mm</text>
<rect x="648" y="789" width="25" height="4" fill="none" stroke="#d4a030" stroke-width="1.2"/>
<text x="665" y="882" font-size="23" fill="#e02020">defect</text>
<text x="665" y="978" font-size="23" fill="#e02020">bottom</text>
<rect x="643" y="922" width="27" height="19" fill="#fff"/><text x="645" y="937" font-size="15" fill="#e02020">-20°</text>
<rect x="834" y="922" width="25" height="19" fill="#fff"/><text x="836" y="937" font-size="15" fill="#e02020">20°</text>
<rect x="887" y="768" width="19" height="202" fill="url(#lbar)"/>
<text x="878" y="765" font-size="17">100%</text>
<text x="889" y="985" font-size="17">0</text>
</g>
</svg>
</body></html>
